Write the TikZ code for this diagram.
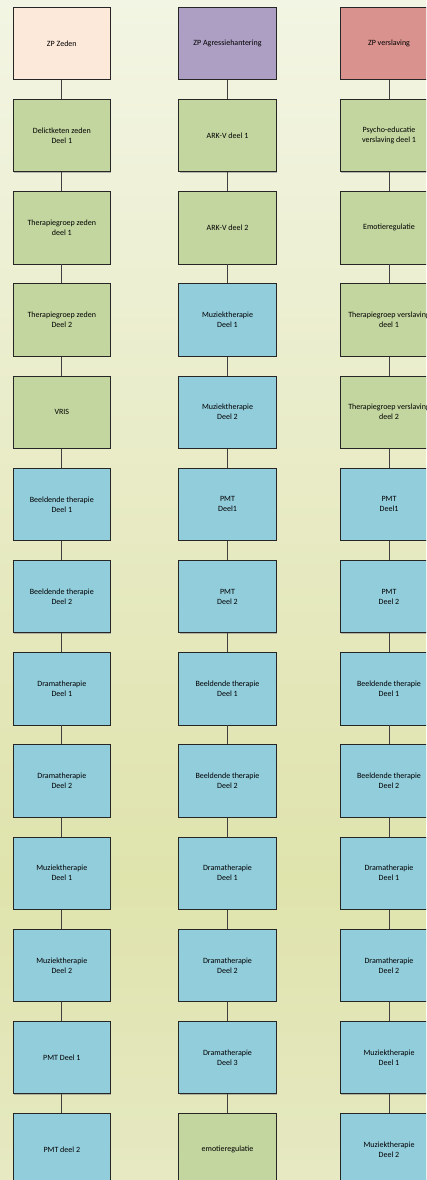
\documentclass[tikz,border=0pt]{standalone}
\usepackage{fontspec}
\setmainfont{Carlito}
\usetikzlibrary{positioning, shadows}

\definecolor{zedenfill}{HTML}{FCE9DA}
\definecolor{agrfill}{HTML}{AD9FC3}
\definecolor{versfill}{HTML}{D9928E}
\definecolor{groenfill}{HTML}{C3D69F}
\definecolor{blauwfill}{HTML}{92CDDC}
\definecolor{bgtop}{HTML}{F3F5E4}
\definecolor{bgmid}{HTML}{DFE3AC}
\definecolor{bgbot}{HTML}{E6E9C2}

\begin{document}
\begin{tikzpicture}[
    x=1pt, y=1pt,
    node distance=18.9pt,
    module/.style={rectangle, draw=black!85, line width=0.9pt, minimum width=97.6pt, minimum height=72.4pt, align=center, font=\fontsize{8}{10}\selectfont,
        drop shadow={shadow xshift=0.8pt, shadow yshift=-0.8pt, fill=black!45, opacity=0.6}},
    zeden/.style={module, fill=zedenfill},
    agr/.style={module, fill=agrfill},
    vers/.style={module, fill=versfill},
    groen/.style={module, fill=groenfill},
    blauw/.style={module, fill=blauwfill},
    link/.style={draw=black!75, line width=0.9pt}
]

\useasboundingbox (0,0) rectangle (426,-1180);
\clip (0,0) rectangle (426,-1180);
\shade[top color=bgtop, bottom color=bgmid] (0,0) rectangle (426,-880.5);
\shade[top color=bgmid, bottom color=bgbot] (0,-880) rectangle (426,-1180);

% ZP Zeden
\node [zeden] (z1) at (61.8,-43.4) {ZP Zeden};
\node [groen, below=of z1] (z2) {Delictketen zeden\\Deel 1};
\node [groen, below=of z2] (z3) {Therapiegroep zeden\\deel 1};
\node [groen, below=of z3] (z4) {Therapiegroep zeden\\Deel 2};
\node [groen, below=of z4] (z5) {VRIS};
\node [blauw, below=of z5] (z6) {Beeldende therapie\\Deel 1};
\node [blauw, below=of z6] (z7) {Beeldende therapie\\Deel 2};
\node [blauw, below=of z7] (z8) {Dramatherapie\\Deel 1};
\node [blauw, below=of z8] (z9) {Dramatherapie\\Deel 2};
\node [blauw, below=of z9] (z10) {Muziektherapie\\Deel 1};
\node [blauw, below=of z10] (z11) {Muziektherapie\\Deel 2};
\node [blauw, below=of z11] (z12) {PMT Deel 1};
\node [blauw, below=of z12] (z13) {PMT deel 2};

% ZP Agressiehantering
\node [agr] (a1) at (227.5,-43.4) {ZP Agressiehantering};
\node [groen, below=of a1] (a2) {ARK-V deel 1};
\node [groen, below=of a2] (a3) {ARK-V deel 2};
\node [blauw, below=of a3] (a4) {Muziektherapie\\Deel 1};
\node [blauw, below=of a4] (a5) {Muziektherapie\\Deel 2};
\node [blauw, below=of a5] (a6) {PMT\\Deel1};
\node [blauw, below=of a6] (a7) {PMT\\Deel 2};
\node [blauw, below=of a7] (a8) {Beeldende therapie\\Deel 1};
\node [blauw, below=of a8] (a9) {Beeldende therapie\\Deel 2};
\node [blauw, below=of a9] (a10) {Dramatherapie\\Deel 1};
\node [blauw, below=of a10] (a11) {Dramatherapie\\Deel 2};
\node [blauw, below=of a11] (a12) {Dramatherapie\\Deel 3};
\node [groen, below=of a12] (a13) {emotieregulatie};

% ZP verslaving
\node [vers] (v1) at (389,-43.4) {ZP verslaving};
\node [groen, below=of v1] (v2) {Psycho-educatie\\verslaving deel 1};
\node [groen, below=of v2] (v3) {Emotieregulatie};
\node [groen, below=of v3] (v4) {Therapiegroep verslaving\\deel 1};
\node [groen, below=of v4] (v5) {Therapiegroep verslaving\\deel 2};
\node [blauw, below=of v5] (v6) {PMT\\Deel1};
\node [blauw, below=of v6] (v7) {PMT\\Deel 2};
\node [blauw, below=of v7] (v8) {Beeldende therapie\\Deel 1};
\node [blauw, below=of v8] (v9) {Beeldende therapie\\Deel 2};
\node [blauw, below=of v9] (v10) {Dramatherapie\\Deel 1};
\node [blauw, below=of v10] (v11) {Dramatherapie\\Deel 2};
\node [blauw, below=of v11] (v12) {Muziektherapie\\Deel 1};
\node [blauw, below=of v12] (v13) {Muziektherapie\\Deel 2};

\draw [link] (z1) -- (z2) -- (z3) -- (z4) -- (z5) -- (z6) -- (z7) -- (z8) -- (z9) -- (z10) -- (z11) -- (z12) -- (z13);
\draw [link] (a1) -- (a2) -- (a3) -- (a4) -- (a5) -- (a6) -- (a7) -- (a8) -- (a9) -- (a10) -- (a11) -- (a12) -- (a13);
\draw [link] (v1) -- (v2) -- (v3) -- (v4) -- (v5) -- (v6) -- (v7) -- (v8) -- (v9) -- (v10) -- (v11) -- (v12) -- (v13);

\end{tikzpicture}
\end{document}
